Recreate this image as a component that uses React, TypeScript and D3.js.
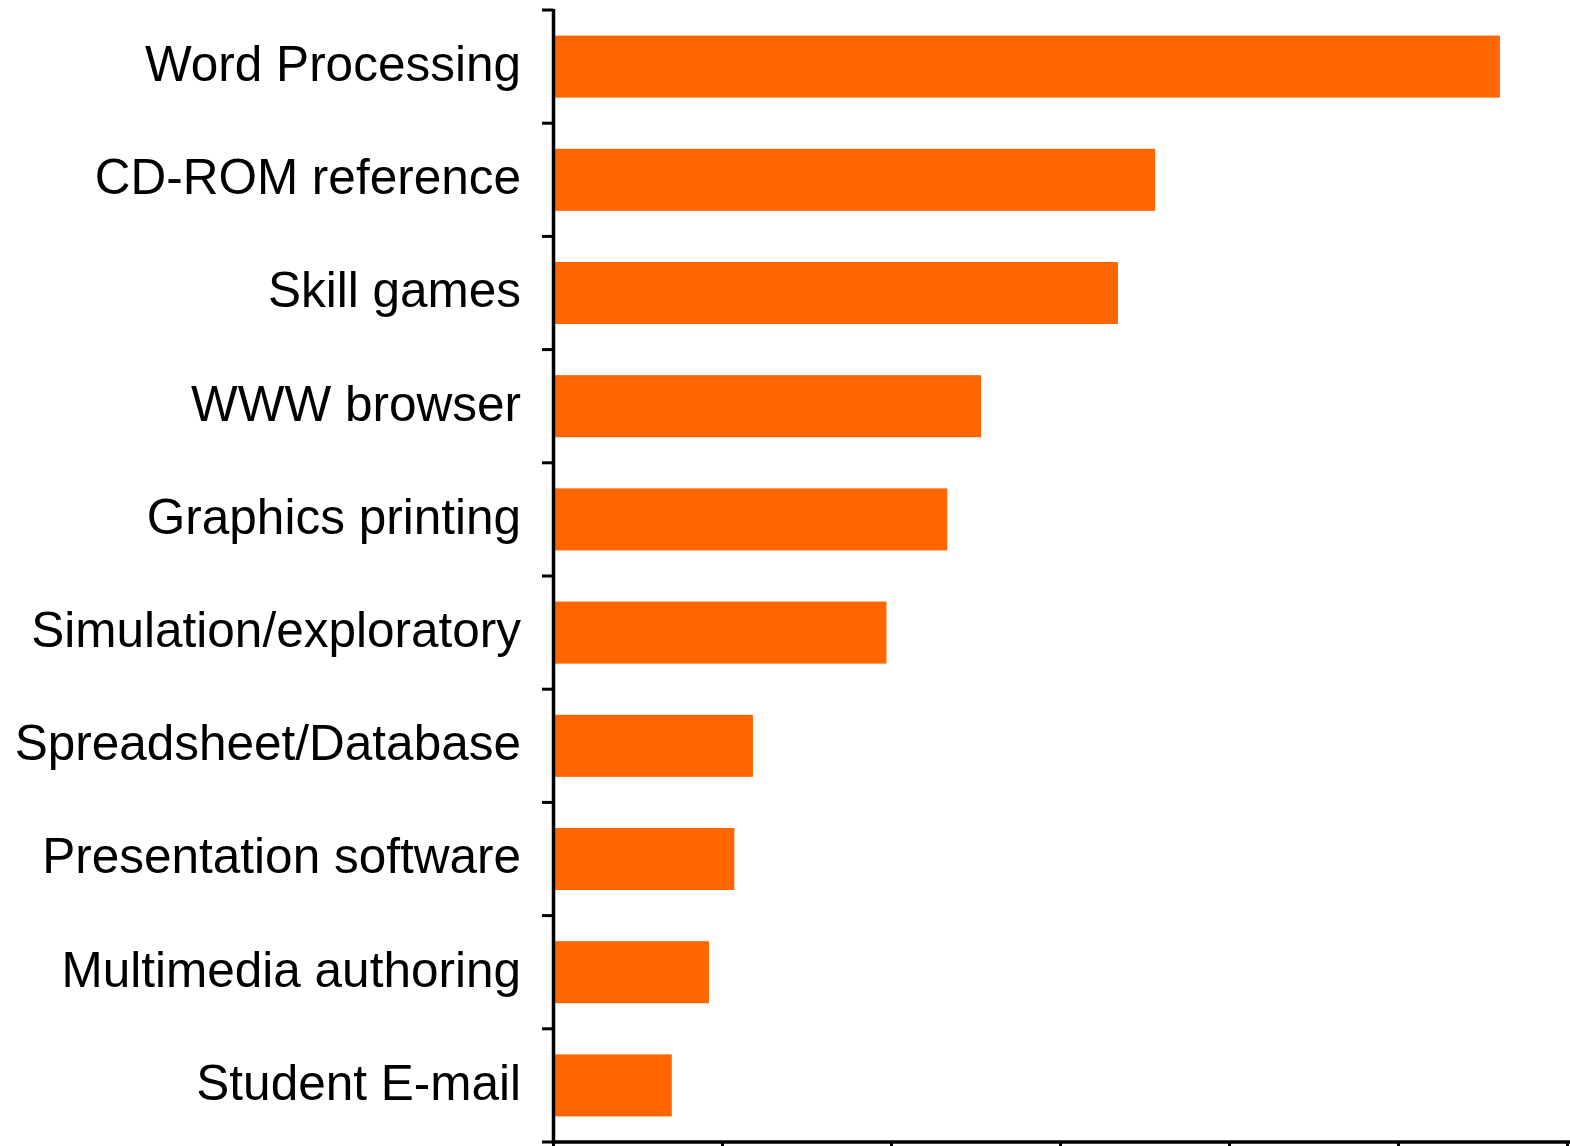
import React from "react";
import * as d3 from "d3";

const categories = [
  "Word Processing",
  "CD-ROM reference",
  "Skill games",
  "WWW browser",
  "Graphics printing",
  "Simulation/exploratory",
  "Spreadsheet/Database",
  "Presentation software",
  "Multimedia authoring",
  "Student E-mail",
];
const values = [56.0, 35.6, 33.4, 25.3, 23.3, 19.7, 11.8, 10.7, 9.2, 7.0];
const xTicks = [0, 10, 20, 30, 40, 50, 60];

const W = 1570;
const H = 1146;

export default function App() {
  const x = d3.scaleLinear().domain([0, 60]).range([553.5, 1567.5]);
  const y = d3
    .scaleBand<string>()
    .domain(categories)
    .range([10, 1142])
    .paddingInner(0.452)
    .paddingOuter(0.226);
  const step = y.step();
  const boundaries = d3.range(categories.length + 1).map((i) => 10 + i * step);
  const x0 = x(0);
  const axisY = 1142;

  return (
    <svg
      width={W}
      height={H}
      style={{ position: "absolute", left: 0, top: 0, background: "#fff" }}
    >
      {categories.map((c, i) => (
        <rect
          key={c}
          x={x0}
          y={y(c)}
          width={x(values[i]) - x0}
          height={y.bandwidth()}
          fill="#FF6600"
        />
      ))}
      {categories.map((c) => (
        <text
          key={"l" + c}
          x={521}
          y={(y(c) as number) + y.bandwidth() / 2}
          dy="0.29em"
          textAnchor="end"
          fontFamily="'Liberation Sans', Arial, sans-serif"
          fontSize={49.5}
          fill="#000"
        >
          {c}
        </text>
      ))}
      {/* y axis */}
      <line x1={x0} x2={x0} y1={9} y2={axisY + 2} stroke="#000" strokeWidth={3.5} />
      {boundaries.map((b, i) => (
        <line key={"yt" + i} x1={542} x2={x0} y1={b} y2={b} stroke="#000" strokeWidth={3} />
      ))}
      {/* x axis */}
      <line x1={x0 - 1.75} x2={W} y1={axisY} y2={axisY} stroke="#000" strokeWidth={3.5} />
      {xTicks.map((t) => (
        <line key={"xt" + t} x1={x(t)} x2={x(t)} y1={axisY} y2={axisY + 10} stroke="#000" strokeWidth={3} />
      ))}
    </svg>
  );
}
